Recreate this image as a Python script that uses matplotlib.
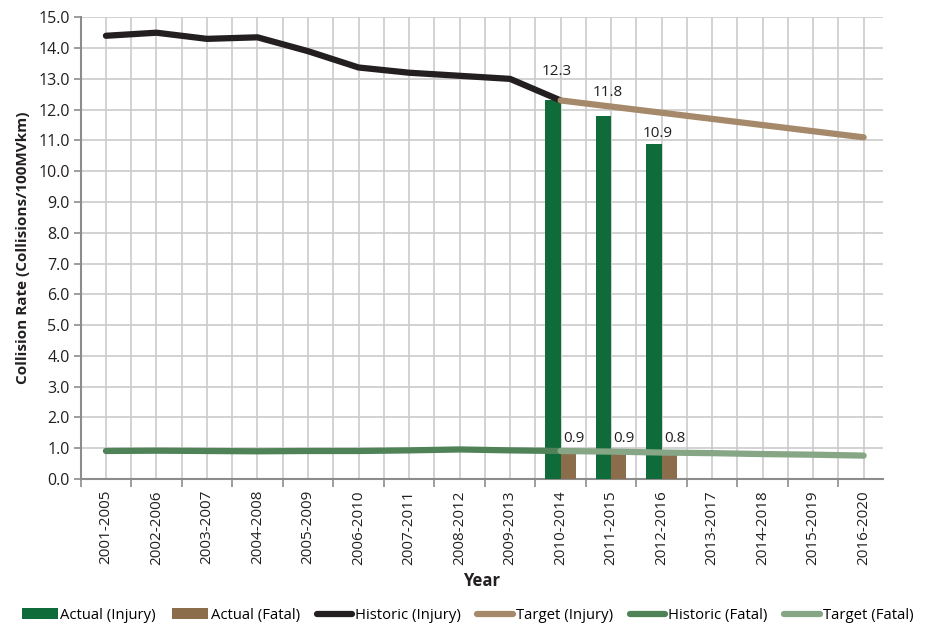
import numpy as np
import matplotlib.pyplot as plt
from matplotlib.ticker import MultipleLocator, FixedLocator, NullFormatter

plt.rcParams['font.family'] = ['Open Sans', 'DejaVu Sans']

periods = ['2001-2005', '2002-2006', '2003-2007', '2004-2008', '2005-2009',
           '2006-2010', '2007-2011', '2008-2012', '2009-2013', '2010-2014',
           '2011-2015', '2012-2016', '2013-2017', '2014-2018', '2015-2019',
           '2016-2020']

# historic rates run 2001-2005 .. 2010-2014, targets 2010-2014 .. 2016-2020
hist_injury = [14.4, 14.5, 14.3, 14.35, 13.9, 13.37, 13.2, 13.1, 13.0, 12.3]
target_injury = [12.3, 12.1, 11.9, 11.7, 11.5, 11.3, 11.1]
hist_fatal = [0.91, 0.92, 0.91, 0.9, 0.91, 0.91, 0.93, 0.96, 0.93, 0.91]
target_fatal = [0.91, 0.89, 0.86, 0.84, 0.81, 0.79, 0.76]

# actual values for 2010-2014, 2011-2015, 2012-2016
actual_injury = [12.3, 11.8, 10.9]
actual_fatal = [0.9, 0.9, 0.8]

c_act_inj = '#0f6b39'
c_act_fat = '#8b6d4b'
c_hist_inj = '#231f20'
c_tgt_inj = '#a6896a'
c_hist_fat = '#4f8257'
c_tgt_fat = '#86a685'
c_text = '#231f20'
c_grid = '#cbcbcb'

fig = plt.figure(figsize=(9.36, 6.25), dpi=100)
ax = fig.add_axes([0.0862, 0.2336, 0.857, 0.7387])

x = np.arange(len(periods))
x_hist = x[:len(hist_injury)]
x_tgt = x[len(hist_injury) - 1:]
x_act = x[9:9 + len(actual_injury)]

w = 0.3
ax.bar(x_act - w / 2, actual_injury, w, color=c_act_inj, zorder=3,
       label='Actual (Injury)')
ax.bar(x_act + w / 2, actual_fatal, w, color=c_act_fat, zorder=3,
       label='Actual (Fatal)')

# value labels, nudged clear of the lines
inj_lift = [21, 17, 7]
for xi, v, dy in zip(x_act - w / 2, actual_injury, inj_lift):
    ax.annotate(f'{v:.1f}', (xi, v), xytext=(3, dy), textcoords='offset points',
                ha='center', va='center', fontsize=11, color=c_text, zorder=6)
fat_lift = [9.5, 9.5, 11.5]
for xi, v, dy in zip(x_act + w / 2, actual_fatal, fat_lift):
    ax.annotate(f'{v:.1f}', (xi, v), xytext=(4, dy), textcoords='offset points',
                ha='center', va='center', fontsize=11, color=c_text, zorder=6)

lw = 4.5
ax.plot(x_hist, hist_injury, color=c_hist_inj, lw=lw, solid_capstyle='round',
        solid_joinstyle='round', zorder=4, label='Historic (Injury)')
ax.plot(x_tgt, target_injury, color=c_tgt_inj, lw=lw, solid_capstyle='round',
        zorder=4, label='Target (Injury)')
ax.plot(x_hist, hist_fatal, color=c_hist_fat, lw=lw, solid_capstyle='round',
        solid_joinstyle='round', zorder=4, label='Historic (Fatal)')
ax.plot(x_tgt, target_fatal, color=c_tgt_fat, lw=lw, solid_capstyle='round',
        zorder=4, label='Target (Fatal)')

ax.set_ylim(0, 15)
ax.set_xlim(-0.5, 15.38)
ax.yaxis.set_major_locator(MultipleLocator(1))
ax.set_yticklabels([f'{v:.1f}' for v in ax.get_yticks()])

ax.set_xticks(x)
ax.set_xticklabels(periods, rotation=90)
ax.xaxis.set_minor_locator(FixedLocator(np.arange(-0.5, 16, 1)))
ax.xaxis.set_minor_formatter(NullFormatter())
ax.tick_params(axis='x', which='major', length=0, pad=8, labelsize=11,
               labelcolor=c_text)
ax.tick_params(axis='x', which='minor', length=6, color='#8c8c8c', width=1.2)
ax.tick_params(axis='y', length=5, color='#8c8c8c', width=1.2, labelsize=11.5,
               labelcolor=c_text, pad=3)

# grid: horizontal at each unit, vertical at category edges and centres
ax.yaxis.grid(True, color=c_grid, lw=1.2)
ax.xaxis.grid(True, which='minor', color=c_grid, lw=1.2)
for xc in x:
    ax.axvline(xc, color=c_grid, lw=1.2, zorder=0.5)
ax.set_axisbelow(True)
for side in ['top', 'right']:
    ax.spines[side].set_visible(False)
for side in ['left', 'bottom']:
    ax.spines[side].set_color('#8c8c8c')
    ax.spines[side].set_linewidth(1.5)

ax.set_ylabel('Collision Rate (Collisions/100MVkm)', fontsize=11,
              fontweight='bold', color=c_text, labelpad=6)
ax.set_xlabel('Year', fontsize=12, fontweight='bold', color=c_text,
              labelpad=5)

handles, labels = ax.get_legend_handles_labels()
order = ['Actual (Injury)', 'Actual (Fatal)', 'Historic (Injury)',
         'Target (Injury)', 'Historic (Fatal)', 'Target (Fatal)']
hmap = dict(zip(labels, handles))
fig.legend([hmap[k] for k in order], order, loc='lower left',
           bbox_to_anchor=(0.017, -0.006), ncol=6, frameon=False,
           fontsize=10.7, handlelength=2.4, handletextpad=0.2,
           columnspacing=1.1, borderaxespad=0.0)

fig.savefig('out.png', dpi=100)
